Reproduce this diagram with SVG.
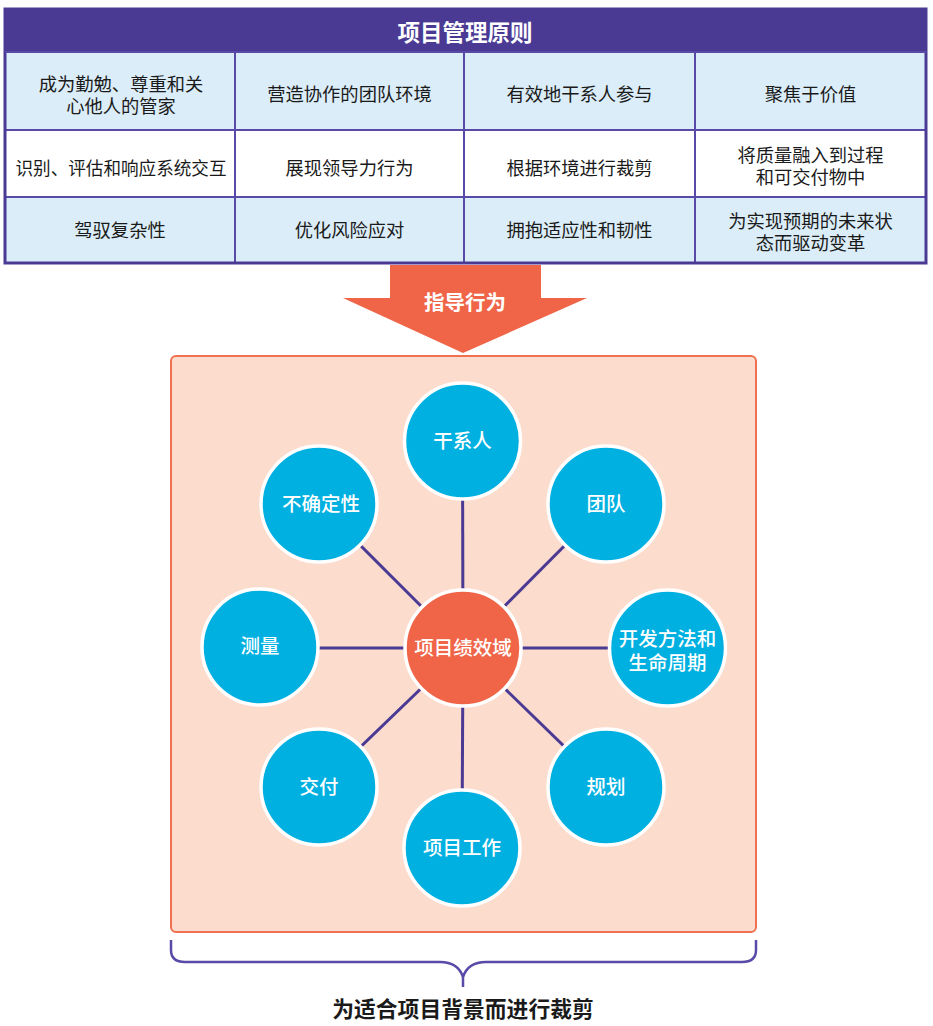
<svg xmlns="http://www.w3.org/2000/svg" width="933" height="1026" viewBox="0 0 933 1026">
<style>
text{font-family:"Noto Sans CJK SC","Noto Sans",sans-serif;text-anchor:middle;dominant-baseline:central}
.cell{font-size:18.3px;fill:#1a1a1a}
.hdr{font-size:22.5px;font-weight:bold;fill:#fff}
.sat{fill:#00b0e0;stroke:#fff;stroke-width:3.5}
.ctr{fill:#f06548;stroke:#fff;stroke-width:3.5}
.lbl{font-size:19.5px;fill:#fff;font-weight:500}
.grid{stroke:#5a4aa8;stroke-width:2;fill:none}
.conn{stroke:#4a3a94;stroke-width:3;fill:none}
</style>
<rect width="933" height="1026" fill="#fff"/>
<g id="table">
<rect x="5" y="9" width="921" height="43" fill="#4a3a94"/>
<rect x="5" y="52" width="921" height="78" fill="#dbedf8"/>
<rect x="5" y="130" width="921" height="67" fill="#fff"/>
<rect x="5" y="197" width="921" height="66" fill="#dbedf8"/>
<path class="grid" d="M5,130H926M5,197H926M235,52V263M464,52V263M695,52V263"/>
<rect x="5" y="9" width="921" height="254" fill="none" stroke="#4a3a94" stroke-width="3"/>
<line x1="5" y1="52" x2="926" y2="52" stroke="#5a4aa8" stroke-width="2"/>
<text class="hdr" x="465" y="31">项目管理原则</text>
<text class="cell"><tspan x="121" y="83">成为勤勉、尊重和关</tspan><tspan x="121" y="105">心他人的管家</tspan></text>
<text class="cell" x="349.5" y="93">营造协作的团队环境</text>
<text class="cell" x="579.5" y="93">有效地干系人参与</text>
<text class="cell" x="810.5" y="93">聚焦于价值</text>
<text class="cell" x="121" y="167" textLength="211" lengthAdjust="spacingAndGlyphs">识别、评估和响应系统交互</text>
<text class="cell" x="349.5" y="167">展现领导力行为</text>
<text class="cell" x="579.5" y="167">根据环境进行裁剪</text>
<text class="cell"><tspan x="810.5" y="154">将质量融入到过程</tspan><tspan x="810.5" y="176">和可交付物中</tspan></text>
<text class="cell" x="120" y="229">驾驭复杂性</text>
<text class="cell" x="349.5" y="229">优化风险应对</text>
<text class="cell" x="579.5" y="229">拥抱适应性和韧性</text>
<text class="cell"><tspan x="810.5" y="220">为实现预期的未来状</tspan><tspan x="810.5" y="242">态而驱动变革</tspan></text>
</g>
<g id="arrow">
<path d="M390,265H541V298H587L463,353L343,298H390Z" fill="#f06548"/>
<text x="465" y="301" style="font-size:20.5px;font-weight:bold;fill:#fff">指导行为</text>
</g>
<g id="box">
<rect x="171" y="356" width="585" height="576" rx="5" fill="#fcdccd" stroke="#f07050" stroke-width="2"/>
</g>
<g id="connectors">
<line class="conn" x1="463" y1="648" x2="462.5" y2="441"/>
<line class="conn" x1="463" y1="648" x2="606" y2="504"/>
<line class="conn" x1="463" y1="648" x2="319" y2="504"/>
<line class="conn" x1="463" y1="648" x2="260" y2="648"/>
<line class="conn" x1="463" y1="648" x2="668" y2="648"/>
<line class="conn" x1="463" y1="648" x2="319" y2="787"/>
<line class="conn" x1="463" y1="648" x2="606" y2="787"/>
<line class="conn" x1="463" y1="648" x2="462" y2="848"/>
</g>
<g id="n-stakeholder"><circle class="sat" cx="462.5" cy="441" r="58"/><text class="lbl" x="462.5" y="439">干系人</text></g>
<g id="n-team"><circle class="sat" cx="606" cy="504" r="58"/><text class="lbl" x="606" y="502">团队</text></g>
<g id="n-uncertainty"><circle class="sat" cx="319" cy="504" r="58"/><text class="lbl" x="321" y="502">不确定性</text></g>
<g id="n-measure"><circle class="sat" cx="260" cy="647" r="58"/><text class="lbl" x="260" y="644">测量</text></g>
<g id="n-center"><circle class="ctr" cx="463" cy="648" r="58"/><text class="lbl" x="463" y="646">项目绩效域</text></g>
<g id="n-lifecycle"><circle class="sat" cx="667.5" cy="648" r="58"/><text class="lbl"><tspan x="667.5" y="637">开发方法和</tspan><tspan x="667.5" y="661">生命周期</tspan></text></g>
<g id="n-delivery"><circle class="sat" cx="319" cy="787" r="58"/><text class="lbl" x="319" y="785">交付</text></g>
<g id="n-planning"><circle class="sat" cx="606" cy="787" r="58"/><text class="lbl" x="606" y="785">规划</text></g>
<g id="n-work"><circle class="sat" cx="462" cy="848" r="58"/><text class="lbl" x="462" y="846">项目工作</text></g>
<g id="brace">
<path d="M171,940V950Q171,962 185,962H440Q458,962 463,977Q468,962 486,962H742Q756,962 756,950V940M463,977V987" fill="none" stroke="#5a4aa8" stroke-width="2.5"/>
<text x="463" y="1007" style="font-size:21.8px;font-weight:bold;fill:#1a1a1a">为适合项目背景而进行裁剪</text>
</g>
</svg>
